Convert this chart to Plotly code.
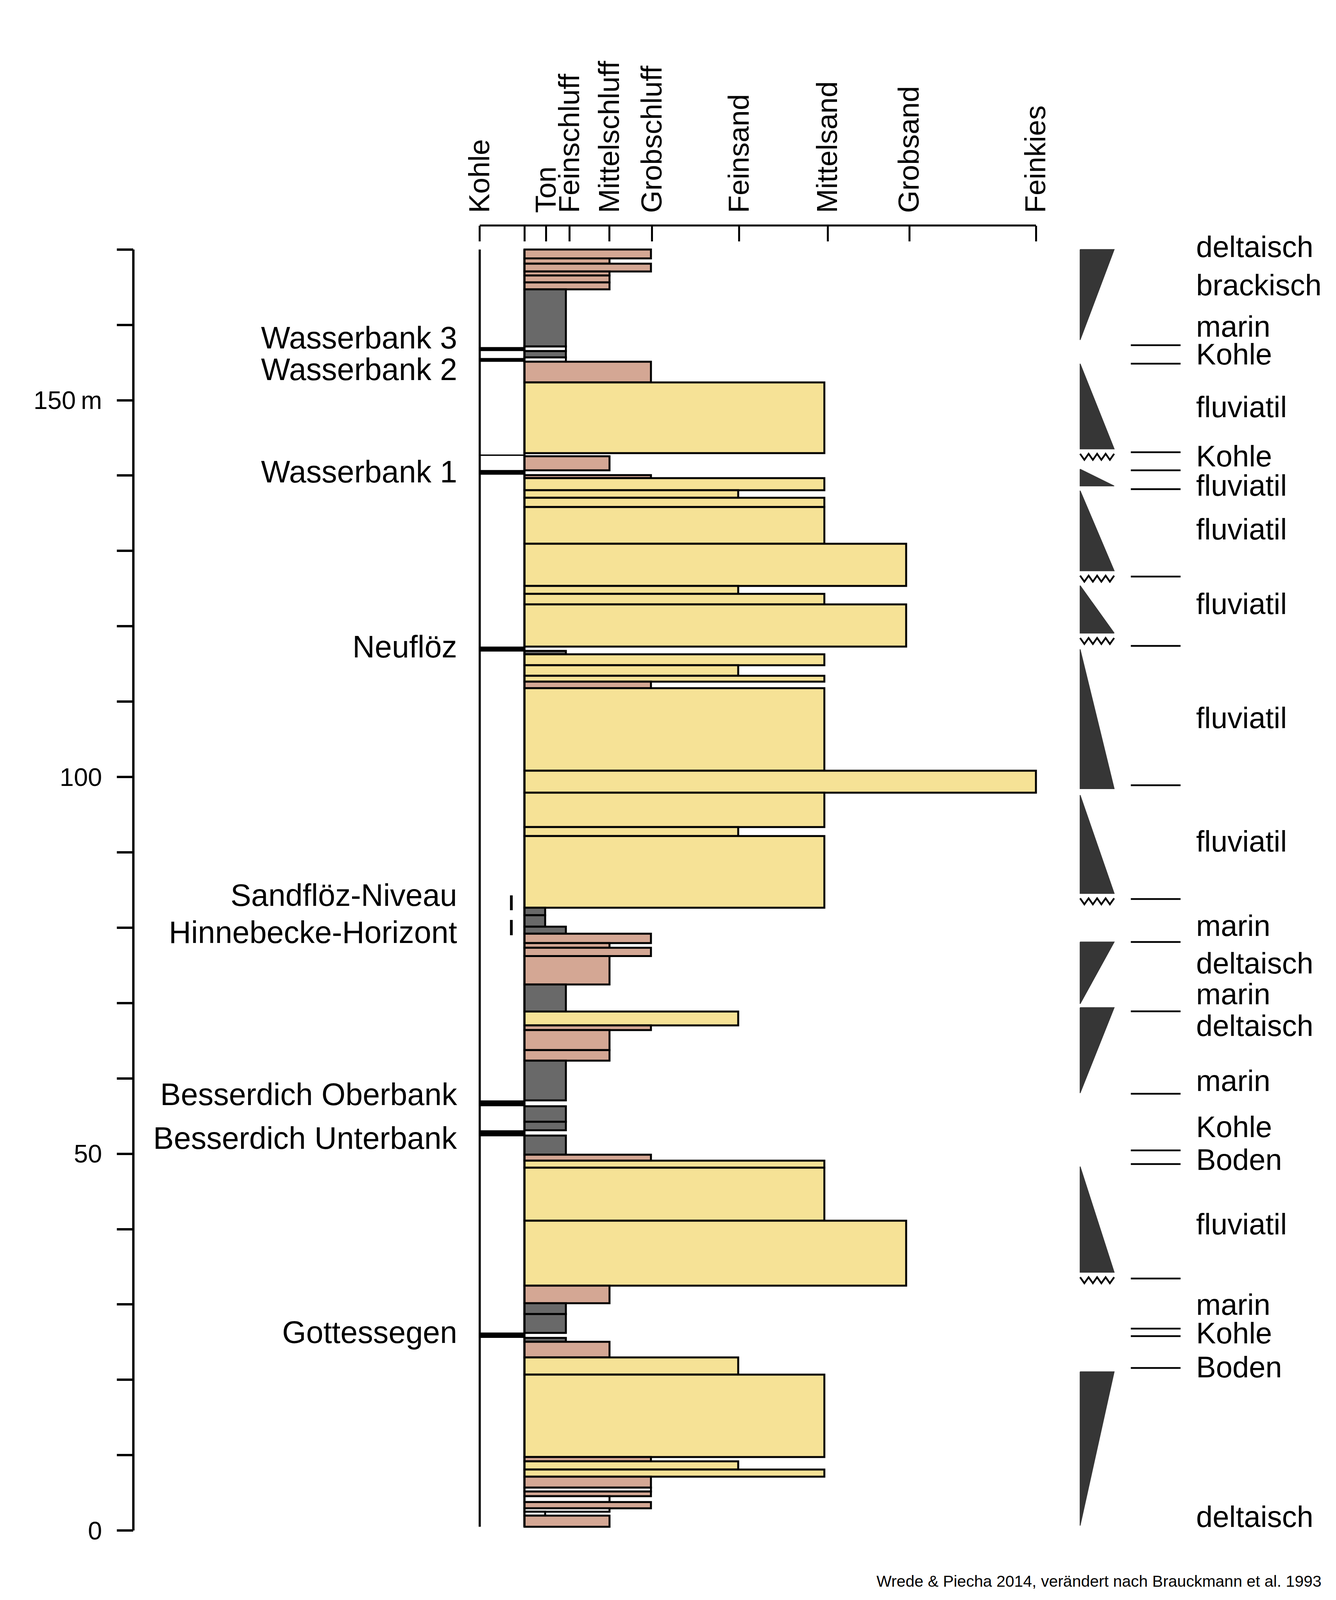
import plotly.graph_objects as go

# grain size scale on the top axis (0 = left edge of the lithology column)
grain_names = ["Kohle", "", "Ton", "Feinschluff", "Mittelschluff", "Grobschluff",
               "Feinsand", "Mittelsand", "Grobsand", "Feinkies"]
grain_ticks = [-41, 0, 20, 41.5, 78, 117, 197, 278, 353, 469]
# right end of the beds for each grain size class
bed_end = {"Ton": 19, "Feinschluff": 38, "Mittelschluff": 78, "Grobschluff": 116,
           "Feinsand": 196, "Mittelsand": 275, "Grobsand": 350, "Feinkies": 469}

# beds of the profile: top / bottom in m, grain size class, fill (S sand, P silt, G clay, W white)
bed_top = [170.0, 168.82, 168.12, 167.08, 166.56, 165.63, 164.72, 157.13, 156.52, 155.68,
           155.11, 152.36, 142.56, 140.07, 139.66, 138.05, 137.06, 135.82, 130.95, 125.35,
           124.31, 122.91, 116.74, 116.28, 114.83, 113.43, 112.65, 111.79, 100.83, 97.92,
           93.36, 92.17, 82.65, 81.65, 80.14, 79.21, 77.96, 77.34, 76.23, 72.47,
           68.87, 67.03, 66.41, 63.76, 62.36, 56.30, 54.24, 52.41, 49.87, 49.09,
           48.15, 41.11, 32.50, 30.17, 28.72, 25.56, 25.04, 22.97, 20.69, 9.75,
           9.18, 8.09, 7.15, 5.70, 5.18, 4.56, 3.78, 2.95, 2.49, 1.97]
bed_bottom = [168.82, 168.12, 167.08, 166.56, 165.63, 164.72, 157.13, 156.52, 155.68, 155.11,
              152.36, 142.98, 140.70, 139.66, 138.05, 137.06, 135.82, 130.95, 125.35, 124.31,
              122.91, 117.31, 116.28, 114.83, 113.43, 112.65, 111.79, 100.83, 97.92, 93.36,
              92.17, 82.65, 81.65, 80.14, 79.21, 77.96, 77.34, 76.23, 72.47, 68.87,
              67.03, 66.41, 63.76, 62.36, 57.08, 54.24, 53.11, 49.87, 49.09, 48.15,
              41.11, 32.50, 30.17, 28.72, 26.23, 25.04, 22.97, 20.69, 9.75, 9.18,
              8.09, 7.15, 5.70, 5.18, 4.56, 3.78, 2.95, 2.49, 1.97, 0.5]
bed_grain = ["Grobschluff", "Mittelschluff", "Grobschluff", "Mittelschluff", "Mittelschluff",
             "Mittelschluff", "Feinschluff", "Feinschluff", "Feinschluff", "Feinschluff",
             "Grobschluff", "Mittelsand", "Mittelschluff", "Grobschluff", "Mittelsand",
             "Feinsand", "Mittelsand", "Mittelsand", "Grobsand", "Feinsand",
             "Mittelsand", "Grobsand", "Feinschluff", "Mittelsand", "Feinsand",
             "Mittelsand", "Grobschluff", "Mittelsand", "Feinkies", "Mittelsand",
             "Feinsand", "Mittelsand", "Ton", "Ton", "Feinschluff",
             "Grobschluff", "Mittelschluff", "Grobschluff", "Mittelschluff", "Feinschluff",
             "Feinsand", "Grobschluff", "Mittelschluff", "Mittelschluff", "Feinschluff",
             "Feinschluff", "Feinschluff", "Feinschluff", "Grobschluff", "Mittelsand",
             "Mittelsand", "Grobsand", "Mittelschluff", "Feinschluff", "Feinschluff",
             "Feinschluff", "Mittelschluff", "Feinsand", "Mittelsand", "Grobschluff",
             "Feinsand", "Mittelsand", "Grobschluff", "Grobschluff", "Grobschluff",
             "Mittelschluff", "Grobschluff", "Mittelschluff", "Ton", "Mittelschluff"]
bed_fill = ["P", "P", "P", "P", "P", "P", "G", "W", "G", "W",
            "P", "S", "P", "P", "S", "S", "S", "S", "S", "S",
            "S", "S", "G", "S", "S", "S", "P", "S", "S", "S",
            "S", "S", "G", "G", "G", "P", "P", "P", "P", "G",
            "S", "P", "P", "P", "G", "G", "G", "G", "P", "S",
            "S", "S", "P", "G", "G", "G", "P", "S", "S", "P",
            "S", "S", "P", "W", "P", "W", "P", "W", "W", "P"]

# coal seams (drawn between the Kohle line and the column)
coal_top = [157.05, 155.60, 142.80, 140.74, 117.31, 57.08, 53.11, 26.28]
coal_bottom = [156.52, 155.10, 142.62, 140.12, 116.64, 56.30, 52.31, 25.56]

seam_names = ["Wasserbank 3", "Wasserbank 2", "Wasserbank 1", "Neuflöz", "Sandflöz-Niveau",
              "Hinnebecke-Horizont", "Besserdich Oberbank", "Besserdich Unterbank", "Gottessegen"]
seam_depth = [158.3, 154.1, 140.5, 117.3, 84.3, 79.4, 57.9, 52.1, 26.3]

# dashed marker for Sandflöz-Niveau / Hinnebecke-Horizont
dash_top = [84.29, 81.03]
dash_bottom = [82.32, 79.00]

depth_ticks = list(range(0, 171, 10))
depth_labels = {0: "0", 50: "50", 100: "100", 150: "150\u2009m"}

# facies triangles: top, bottom, wide end, erosion base
tri_top = [170.0, 154.85, 140.85, 138.0, 125.4, 116.95, 97.6, 78.1, 69.4, 48.3, 21.07]
tri_bottom = [158.0, 143.54, 138.62, 127.37, 119.1, 98.45, 84.55, 69.9, 58.06, 34.27, 0.65]
tri_wide = ["top", "bottom", "bottom", "bottom", "bottom", "bottom", "bottom", "top", "top",
            "bottom", "top"]
tri_erosion = [False, True, False, True, True, False, True, False, False, True, False]

boundary_depth = [157.3, 154.85, 143.1, 140.7, 138.2, 126.6, 117.4, 98.9, 83.8, 78.1, 68.9,
                  57.96, 50.44, 48.63, 33.44, 26.8, 25.8, 21.57]

facies_names = ["deltaisch", "brackisch", "marin", "Kohle", "fluviatil", "Kohle", "fluviatil",
                "fluviatil", "fluviatil", "fluviatil", "fluviatil", "marin", "deltaisch",
                "marin", "deltaisch", "marin", "Kohle", "Boden", "fluviatil", "marin", "Kohle",
                "Boden", "deltaisch"]
facies_depth = [170.4, 165.3, 159.8, 156.1, 149.1, 142.6, 138.7, 132.9, 123.0, 107.85, 91.5,
                80.3, 75.3, 71.2, 67.0, 59.7, 53.6, 49.25, 40.7, 30.0, 26.2, 21.7, 1.84]

source_note = "Wrede & Piecha 2014, verändert nach Brauckmann et al. 1993"

FONT = "Liberation Sans, Arial, sans-serif"
colors = {"S": "#f6e296", "P": "#d4a794", "G": "#696969", "W": "#ffffff"}
TRI_X0, TRI_X1 = 509.5, 540.7
LINE_X0, LINE_X1 = 556, 601.6

fig = go.Figure()

# lithology column
fig.add_trace(go.Bar(
    orientation="h",
    y=[(t + b) / 2 for t, b in zip(bed_top, bed_bottom)],
    width=[t - b for t, b in zip(bed_top, bed_bottom)],
    x=[bed_end[g] for g in bed_grain],
    base=0,
    marker=dict(color=[colors[f] for f in bed_fill], line=dict(color="black", width=5)),
    hoverinfo="skip", showlegend=False))

# coal seams
fig.add_trace(go.Bar(
    orientation="h",
    y=[(t + b) / 2 for t, b in zip(coal_top, coal_bottom)],
    width=[t - b for t, b in zip(coal_top, coal_bottom)],
    x=[-grain_ticks[0]] * len(coal_top),
    base=grain_ticks[0],
    marker=dict(color="black", line=dict(width=0)),
    hoverinfo="skip", showlegend=False))

# vertical frame lines of the column
col_top, col_bot = bed_top[0], bed_bottom[-1]
fig.add_trace(go.Scatter(x=[grain_ticks[0], grain_ticks[0], None, 0, 0],
                         y=[col_bot, col_top, None, col_bot, col_top],
                         mode="lines", line=dict(color="black", width=5.5),
                         hoverinfo="skip", showlegend=False))

# dashes
dx, dy = [], []
for t, b in zip(dash_top, dash_bottom):
    dx += [-12, -12, None]
    dy += [t, b, None]
fig.add_trace(go.Scatter(x=dx, y=dy, mode="lines", line=dict(color="black", width=7),
                         hoverinfo="skip", showlegend=False))

# facies triangles
for t, b, w, ero in zip(tri_top, tri_bottom, tri_wide, tri_erosion):
    if w == "top":
        xs, ys = [TRI_X0, TRI_X1, TRI_X0, TRI_X0], [t, t, b, t]
    else:
        xs, ys = [TRI_X0, TRI_X1, TRI_X0, TRI_X0], [t, b, b, t]
    fig.add_trace(go.Scatter(x=xs, y=ys, mode="lines", fill="toself", fillcolor="#363636",
                             line=dict(color="#363636", width=2),
                             hoverinfo="skip", showlegend=False))
    if ero:
        zx = [TRI_X0 + i * (TRI_X1 - TRI_X0) / 8 for i in range(9)]
        zy = [b - 0.65 - (0.8 if i % 2 else 0) for i in range(9)]
        fig.add_trace(go.Scatter(x=zx, y=zy, mode="lines", line=dict(color="black", width=4.5),
                                 hoverinfo="skip", showlegend=False))

# facies boundaries
bx, by = [], []
for d in boundary_depth:
    bx += [LINE_X0, LINE_X1, None]
    by += [d, d, None]
fig.add_trace(go.Scatter(x=bx, y=by, mode="lines", line=dict(color="black", width=4.5),
                         hoverinfo="skip", showlegend=False))

annotations = []
for name, d in zip(seam_names, seam_depth):
    annotations.append(dict(x=-61, y=d, xref="x", yref="y", text=name, showarrow=False,
                            xanchor="right", yanchor="middle",
                            font=dict(family=FONT, size=79, color="black")))
for name, d in zip(facies_names, facies_depth):
    annotations.append(dict(x=615, y=d, xref="x", yref="y", text=name, showarrow=False,
                            xanchor="left", yanchor="middle",
                            font=dict(family=FONT, size=76, color="black")))
# source note: kept inside the visible part of the page
annotations.append(dict(x=0.9875, y=0.079, xref="paper", yref="paper", text=source_note,
                        showarrow=False, xanchor="right", yanchor="middle",
                        font=dict(family=FONT, size=41, color="black")))

AXIS_Y = 0.87019
AXIS_X = 0.09747
shapes = [
    dict(type="line", xref="x", yref="paper", x0=grain_ticks[0], x1=grain_ticks[-1],
         y0=AXIS_Y, y1=AXIS_Y, line=dict(color="black", width=5)),
    dict(type="line", xref="paper", yref="y", x0=AXIS_X, x1=AXIS_X,
         y0=depth_ticks[0], y1=depth_ticks[-1], line=dict(color="black", width=6)),
]

fig.update_layout(
    width=3419, height=4386, autosize=False,
    margin=dict(l=0, r=0, t=0, b=0),
    paper_bgcolor="white", plot_bgcolor="white",
    barmode="overlay", showlegend=False,
    annotations=annotations, shapes=shapes,
    xaxis=dict(range=[-478, 747], domain=[0, 1], side="top", anchor="free", position=AXIS_Y,
               showgrid=False, zeroline=False, showline=False,
               tickmode="array", tickvals=grain_ticks, ticktext=grain_names,
               ticks="inside", ticklen=40, tickwidth=5, tickcolor="black",
               tickangle=-90, ticklabelstandoff=32,
               tickfont=dict(family=FONT, size=74, color="black"), automargin=False),
    yaxis=dict(range=[-24.67, 202.70], domain=[0, 1], anchor="free", position=AXIS_X,
               showgrid=False, zeroline=False, showline=False,
               tickmode="array", tickvals=depth_ticks,
               ticktext=[depth_labels.get(v, "") for v in depth_ticks],
               ticks="outside", ticklen=42, tickwidth=6, tickcolor="black",
               ticklabelstandoff=25,
               tickfont=dict(family=FONT, size=65, color="black"), automargin=False),
)

fig.write_html("out.html")
